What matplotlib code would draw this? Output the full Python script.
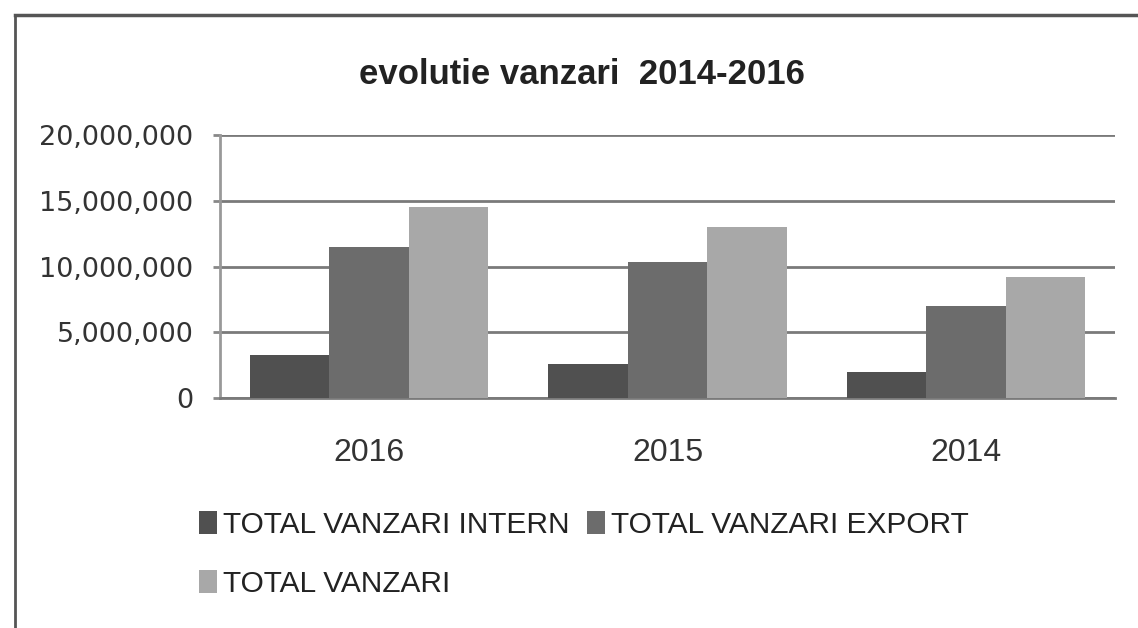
import numpy as np
import matplotlib
matplotlib.use('Agg')
import matplotlib.pyplot as plt
from matplotlib.patches import Patch
from matplotlib.lines import Line2D

# data
years = ['2016', '2015', '2014']
intern = [3.3e6, 2.6e6, 2.0e6]
export = [11.45e6, 10.35e6, 7.0e6]
total = [14.5e6, 13.0e6, 9.2e6]
series_names = ['TOTAL VANZARI INTERN', 'TOTAL VANZARI EXPORT', 'TOTAL VANZARI']
series_colors = ['#505050', '#6c6c6c', '#a8a8a8']

sans = ['Liberation Sans', 'DejaVu Sans']

fig = plt.figure(figsize=(11.38, 6.28), dpi=100)
ax = fig.add_axes([220/1138, 1 - 398/628, (1115 - 220)/1138, (398 - 135)/628])

x = np.arange(len(years))
w = 0.266
for i, vals in enumerate([intern, export, total]):
    ax.bar(x + (i - 1)*w, vals, w, color=series_colors[i], linewidth=0, zorder=3)

ax.set_xlim(-0.5, 2.5)
ax.set_ylim(0, 20e6)
ax.set_yticks(np.arange(0, 20e6 + 1, 5e6))
ax.set_yticklabels(['{:,.0f}'.format(v) for v in ax.get_yticks()],
                   fontsize=19.5, color='#333333', family='DejaVu Sans')
ax.set_xticks(x)
ax.set_xticklabels(years, fontsize=23, color='#333333', family=sans)
ax.tick_params(axis='x', length=0, pad=29)
ax.tick_params(axis='y', length=5, width=2, color='#888888', pad=14)
ax.grid(axis='y', color='#7a7a7a', linewidth=2, zorder=0)
for s in ['top', 'right']:
    ax.spines[s].set_visible(False)
ax.spines['left'].set_color('#999999')
ax.spines['left'].set_linewidth(2)
ax.spines['bottom'].set_color('#7a7a7a')
ax.spines['bottom'].set_linewidth(2)

fig.text(582/1138, 1 - 75/628, 'evolutie vanzari  2014-2016', ha='center', va='center',
         fontsize=25, fontweight='bold', color='#222222', family=sans)

# legend fills column-wise: intern + total in column 1, export in column 2
order = [0, 2, 1]
handles = [Patch(facecolor=series_colors[k], edgecolor='none') for k in order]
labels = [series_names[k] for k in order]
leg = fig.legend(handles, labels, ncol=2, loc='upper left',
                 bbox_to_anchor=(172/1138, 1 - 484/628), frameon=False,
                 prop={'family': sans, 'size': 21.5}, handlelength=0.6,
                 handleheight=0.8, handletextpad=0.2, columnspacing=0.6,
                 labelspacing=1.05, labelcolor='#222222')

# chart frame (left and top edge visible in the scan)
fig.add_artist(Line2D([15/1138, 15/1138], [0, 1 - 15/628], transform=fig.transFigure,
                      color='#555555', linewidth=2))
fig.add_artist(Line2D([15/1138, 1], [1 - 15/628, 1 - 15/628], transform=fig.transFigure,
                      color='#555555', linewidth=2.5))

fig.savefig('out.png', dpi=100)
